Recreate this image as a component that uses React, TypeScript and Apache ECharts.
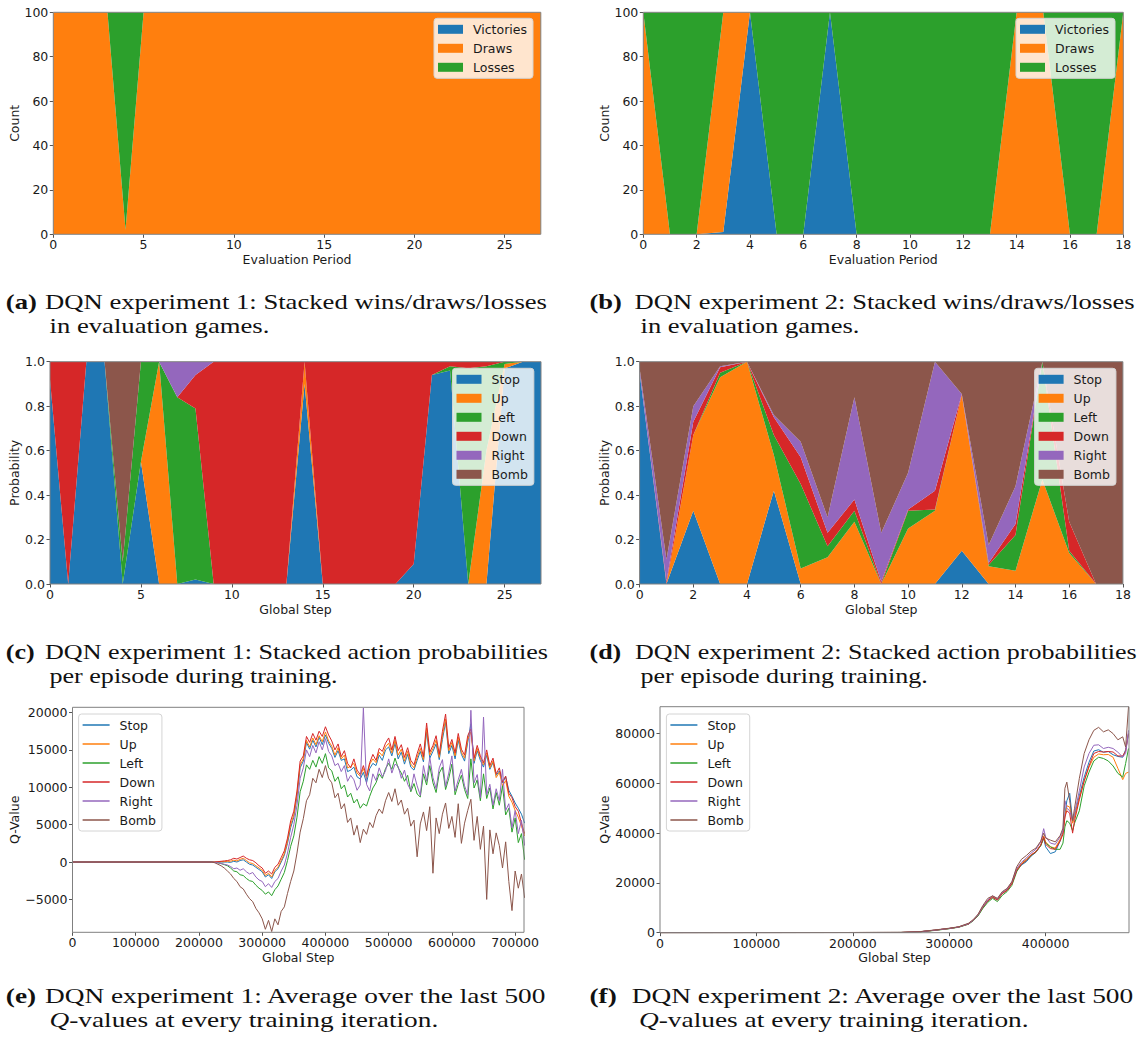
import React, { useEffect, useRef } from "react";
import * as echarts from "echarts";

// ---------------- colours (matplotlib tab10) ----------------
const BLUE = "#1f77b4";
const ORANGE = "#ff7f0e";
const GREEN = "#2ca02c";
const RED = "#d62728";
const PURPLE = "#9467bd";
const BROWN = "#8c564b";

// ---------------- (a) experiment 1 evaluation ----------------
const periodsA = [0, 1, 2, 3, 4, 5, 6, 7, 8, 9, 10, 11, 12, 13, 14, 15, 16, 17, 18, 19, 20, 21, 22, 23, 24, 25, 26, 27];
const a_victories = [0, 0, 0, 0, 0, 0, 0, 0, 0, 0, 0, 0, 0, 0, 0, 0, 0, 0, 0, 0, 0, 0, 0, 0, 0, 0, 0, 0];
const a_draws = [100, 100, 100, 100, 2, 100, 100, 100, 100, 100, 100, 100, 100, 100, 100, 100, 100, 100, 100, 100, 100, 100, 100, 100, 100, 100, 100, 100];
const a_losses = [0, 0, 0, 0, 98, 0, 0, 0, 0, 0, 0, 0, 0, 0, 0, 0, 0, 0, 0, 0, 0, 0, 0, 0, 0, 0, 0, 0];

// ---------------- (b) experiment 2 evaluation ----------------
const periodsB = [0, 1, 2, 3, 4, 5, 6, 7, 8, 9, 10, 11, 12, 13, 14, 15, 16, 17, 18];
const b_victories = [0, 0, 0, 1, 100, 0, 0, 100, 0, 0, 0, 0, 0, 0, 0, 0, 0, 0, 0];
const b_draws = [100, 0, 0, 99, 0, 0, 0, 0, 0, 0, 0, 0, 0, 0, 100, 100, 0, 0, 100];
const b_losses = [0, 100, 100, 0, 0, 100, 100, 0, 100, 100, 100, 100, 100, 100, 0, 0, 100, 100, 0];

// ---------------- (c) experiment 1 action probabilities ----------------
const stepsC = [0, 1, 2, 3, 4, 5, 6, 7, 8, 9, 10, 11, 12, 13, 14, 15, 16, 17, 18, 19, 20, 21, 22, 23, 24, 25, 26, 27];
const c_stop = [0.92, 0, 1, 1, 0, 0.55, 0, 0, 0.02, 0, 0, 0, 0, 0, 0.9, 0, 0, 0, 0, 0, 0.09, 0.94, 0.96, 0, 0, 0.97, 1, 1];
const c_up = [0, 0, 0, 0, 0, 0, 1, 0, 0, 0, 0, 0, 0, 0, 0.1, 0, 0, 0, 0, 0, 0, 0, 0, 0, 0.6, 0.02, 0, 0];
const c_left = [0, 0, 0, 0, 0.1, 0.45, 0, 0.84, 0.77, 0, 0, 0, 0, 0, 0, 0, 0, 0, 0, 0, 0, 0, 0.02, 0.97, 0.38, 0.01, 0, 0];
const c_down = [0.08, 1, 0, 0, 0, 0, 0, 0, 0.15, 1, 1, 1, 1, 1, 0, 1, 1, 1, 1, 1, 0.91, 0.06, 0.02, 0.03, 0.02, 0, 0, 0];
const c_right = [0, 0, 0, 0, 0, 0, 0, 0.16, 0.06, 0, 0, 0, 0, 0, 0, 0, 0, 0, 0, 0, 0, 0, 0, 0, 0, 0, 0, 0];
const c_bomb = [0, 0, 0, 0, 0.9, 0, 0, 0, 0, 0, 0, 0, 0, 0, 0, 0, 0, 0, 0, 0, 0, 0, 0, 0, 0, 0, 0, 0];

// ---------------- (d) experiment 2 action probabilities ----------------
const stepsD = [0, 1, 2, 3, 4, 5, 6, 7, 8, 9, 10, 11, 12, 13, 14, 15, 16, 17, 18];
const d_stop = [0.95, 0, 0.33, 0, 0, 0.42, 0, 0, 0, 0, 0, 0, 0.15, 0, 0, 0, 0, 0, 0];
const d_up = [0, 0, 0.34, 0.93, 1, 0.16, 0.07, 0.12, 0.28, 0, 0.25, 0.33, 0.7, 0.08, 0.06, 0.47, 0.14, 0, 0];
const d_left = [0, 0, 0, 0.02, 0, 0.09, 0.38, 0.05, 0.05, 0, 0.08, 0.005, 0, 0.005, 0.16, 0.53, 0.01, 0, 0];
const d_down = [0, 0.01, 0.06, 0.025, 0, 0.08, 0.12, 0.06, 0.05, 0.01, 0.005, 0.085, 0.005, 0.01, 0.05, 0, 0.13, 0, 0];
const d_right = [0.02, 0.1, 0.07, 0.005, 0, 0.01, 0.07, 0.07, 0.46, 0.22, 0.165, 0.58, 0, 0.08, 0.17, 0, 0, 0, 0];
const d_bomb = [0.03, 0.89, 0.2, 0.02, 0, 0.24, 0.36, 0.7, 0.16, 0.77, 0.5, 0, 0.145, 0.825, 0.56, 0, 0.72, 1, 1];

// ---------------- (e) experiment 1 Q-values ----------------
// first value at step 0, then one value every 5000 steps from 220000 to 715000
const E_FIRST_STEP = 220000;
const E_STRIDE = 5000;
const e_stop = [0,
  0, 0, 0, 0, 0, 0, -50, 100, 0, 200, 300, 0, -300, -400, -700, -1000, -1300, -2000, -1700, -2200,
  -1300, -900, 0, 900, 2500, 4600, 6000, 8800, 12600, 13500, 16000, 15100, 16300, 15400, 16700, 15700, 17000, 15900, 15200, 14000,
  14900, 13600, 13800, 12100, 12300, 12700, 11400, 11100, 12000, 10600, 12500, 13200, 12900, 14300, 13600, 15000, 15400, 14200, 15900, 13800,
  14700, 13100, 14400, 12700, 12300, 13600, 14800, 13400, 17400, 13900, 14800, 15800, 13700, 16400, 18700, 14500, 15600, 13800, 16300, 14400,
  13500, 16000, 18500, 13200, 14900, 13600, 12700, 14300, 12400, 13300, 11600, 12200, 10600, 11400, 9600, 8800, 7900, 7200, 6400, 5200];
const e_up = [0,
  0, 0, 0, 50, 50, 100, 100, 250, 150, 350, 500, 200, -100, -200, -500, -800, -1100, -1800, -1500, -2000,
  -1100, -700, 200, 1100, 2800, 5000, 6300, 9100, 13000, 13800, 16300, 15400, 16600, 15700, 16900, 16100, 17400, 16200, 15500, 14300,
  15300, 13800, 14300, 12600, 12800, 13200, 11900, 11500, 12500, 11200, 13100, 13800, 13300, 14700, 14200, 15400, 15900, 14600, 16300, 14300,
  15100, 13500, 14800, 13100, 12600, 14000, 15200, 13700, 17900, 14300, 15200, 16300, 14000, 16900, 19100, 14900, 16000, 14200, 16700, 14700,
  13900, 16400, 17400, 13500, 15200, 13900, 13000, 14600, 12600, 13500, 11300, 12000, 10200, 10900, 8800, 8000, 6900, 6000, 4800, 3500];
const e_left = [0,
  0, -50, -100, -200, -350, -500, -800, -1200, -1300, -1700, -1800, -2200, -2500, -2600, -3100, -3500, -3800, -4300, -4000, -4500,
  -3700, -3200, -2300, -1400, 200, 2100, 3500, 6000, 9400, 10800, 13000, 12400, 13600, 12700, 14100, 13200, 14500, 12600, 12200, 10800,
  11400, 9800, 10300, 8700, 9200, 7900, 8400, 7200, 7800, 7500, 8800, 9900, 10600, 11800, 11200, 12500, 13200, 12400, 13900, 12600,
  11900, 10800, 11600, 9400, 10500, 9100, 8700, 11800, 10300, 12900, 10600, 9300, 11900, 12700, 9700, 11200, 13100, 9000, 10400, 11600,
  9700, 8500, 13800, 9900, 11000, 8200, 11800, 8500, 9900, 7100, 9300, 7600, 10200, 6300, 7200, 4000, 5900, 2600, 3800, 300];
const e_down = [0,
  0, 0, 50, 100, 150, 200, 300, 500, 400, 600, 800, 500, 300, 200, -100, -500, -800, -1500, -1200, -1600,
  -700, -300, 600, 1500, 3200, 5500, 6800, 9500, 13500, 14200, 16800, 16000, 17200, 16300, 17500, 16800, 18100, 17000, 16200, 15000,
  15800, 14100, 14900, 13200, 12600, 13800, 12300, 11700, 12900, 11500, 13300, 14400, 13600, 15200, 14800, 15900, 16600, 15000, 16800, 14900,
  15700, 14000, 15300, 13600, 13000, 14500, 15800, 14100, 18600, 14700, 15600, 16900, 14400, 17500, 19800, 15300, 16400, 14600, 17200, 15100,
  14300, 16900, 17800, 13900, 15600, 14200, 13300, 15000, 12900, 13900, 11800, 12600, 10700, 11500, 9200, 8600, 7400, 6800, 5200, 3800];
const e_right = [0,
  0, -50, -100, -200, -300, -400, -600, -900, -800, -1100, -900, -1300, -1600, -1400, -2000, -2400, -2600, -3300, -2900, -3400,
  -2600, -2200, -1200, -400, 1200, 3300, 5000, 7600, 11200, 12600, 15000, 14100, 15600, 14600, 16100, 15000, 16500, 14800, 14200, 12900,
  13200, 12100, 12900, 10800, 11600, 11000, 9600, 10300, 20600, 10400, 9500, 11800, 10900, 12600, 11400, 12200, 13800, 11900, 13100, 12800,
  11200, 12300, 10400, 9600, 11800, 10200, 8900, 12900, 10800, 14000, 11300, 9800, 12600, 13700, 10100, 11900, 14200, 9500, 11000, 12400,
  10200, 9000, 20300, 10600, 11700, 8600, 19400, 9000, 10400, 7600, 9800, 8200, 12400, 6900, 7800, 4600, 6900, 3800, 5600, 2200];
const e_bomb = [0,
  0, -100, -300, -500, -800, -1200, -1600, -2200, -2600, -3300, -3600, -4300, -4900, -5300, -6200, -6800, -7600, -9000, -7800, -9300,
  -7600, -8400, -6600, -6000, -4200, -2600, -1200, 1200, 4000, 5800, 8200, 9000, 11200, 10600, 12400, 11300, 12900, 11200, 10600, 8600,
  9200, 7100, 7800, 5300, 5900, 3600, 4900, 2600, 4400, 3700, 5300, 4600, 6200, 7100, 6500, 8200, 9300, 8100, 9800, 7600,
  8300, 6400, 7200, 4800, 5600, 700, 5100, 6700, 4200, 7400, -1500, 5900, 3800, 6400, 7900, 4500, 6100, 3300, 7800, 2500,
  5200, 6900, 8400, 2900, 6100, 1700, 4800, -5000, 4300, 1100, 3900, 2200, -800, 2700, -2600, -6500, -1200, -3500, -1600, -4800];

// ---------------- (f) experiment 2 Q-values ----------------
const f_steps = [0, 250000, 270000, 285000, 300000, 310000, 320000, 325000, 330000, 335000, 340000, 345000, 350000, 355000, 360000,
  365000, 370000, 375000, 380000, 385000, 390000, 395000, 398000, 400000, 405000, 410000, 415000, 418000, 420000, 422000,
  425000, 428000, 430000, 435000, 440000, 445000, 450000, 455000, 460000, 465000, 470000, 475000, 480000, 483000, 486000];
const f_stop = [0, 100, 400, 1000, 1700, 2300, 3600, 5000, 7000, 10200, 12800, 14300, 13300, 15800, 17000, 19800, 25200, 27200, 28500, 30800, 32300, 35000, 38000, 34500, 31800, 32500, 36800, 40500, 47000, 53000, 56000, 44500, 47000, 55000, 62500, 68500, 73000, 73500, 72500, 72800, 71500, 70800, 70500, 73500, 80000];
const f_up = [0, 100, 400, 1000, 1700, 2300, 3600, 5100, 7200, 10500, 13000, 14600, 13500, 16000, 17200, 20000, 25500, 28000, 29500, 31300, 32600, 35300, 38800, 36500, 34500, 34000, 37500, 40000, 46500, 51000, 50500, 44000, 46500, 54000, 61000, 66500, 70500, 71800, 71500, 71600, 70500, 66000, 61500, 64000, 64500];
const f_left = [0, 100, 350, 900, 1600, 2200, 3400, 4800, 6800, 9800, 12200, 13800, 12500, 15000, 16500, 19000, 24500, 27500, 29000, 31000, 32500, 35000, 38000, 36000, 34500, 33500, 33500, 36000, 42500, 45000, 44000, 41000, 44000, 49000, 59000, 64500, 69000, 70500, 70000, 69000, 67000, 64000, 62500, 68000, 74000];
const f_down = [0, 100, 400, 1000, 1700, 2300, 3500, 5000, 7100, 10300, 12800, 14200, 13100, 15700, 17000, 19600, 25000, 27500, 29000, 31200, 32500, 35200, 38500, 35500, 33800, 33500, 36800, 39500, 46500, 49000, 48000, 40000, 45000, 53500, 61000, 67000, 72000, 72800, 72600, 72800, 72600, 71000, 71000, 73000, 80000];
const f_right = [0, 100, 400, 1000, 1700, 2300, 3600, 5000, 7200, 10600, 13200, 14800, 13600, 16200, 17500, 20300, 25800, 28300, 30000, 32000, 33500, 36500, 41800, 38500, 36000, 35500, 38500, 41000, 53000, 50000, 49000, 45000, 48000, 57000, 66600, 72000, 75300, 75500, 74000, 74500, 74000, 72500, 70600, 72000, 81300];
const f_bomb = [0, 100, 450, 1100, 1800, 2400, 3800, 5300, 7500, 11000, 13800, 14800, 13800, 16500, 17800, 20500, 26500, 29500, 31000, 32800, 34000, 36800, 40000, 38000, 37200, 36500, 39000, 42000, 58000, 60500, 53000, 45000, 50000, 62000, 72000, 77500, 81300, 82500, 80700, 81500, 80000, 77500, 78700, 74600, 90800];

// ---------------- labels & ticks ----------------
const outcomeNames = ["Victories", "Draws", "Losses"];
const outcomeColors = [BLUE, ORANGE, GREEN];
const actionNames = ["Stop", "Up", "Left", "Down", "Right", "Bomb"];
const actionColors = [BLUE, ORANGE, GREEN, RED, PURPLE, BROWN];

const ticksX27 = [0, 5, 10, 15, 20, 25];
const ticksX18 = [0, 2, 4, 6, 8, 10, 12, 14, 16, 18];
const ticksCount = [0, 20, 40, 60, 80, 100];
const ticksProb = [0, 0.2, 0.4, 0.6, 0.8, 1.0];
const ticksStepE = [0, 100000, 200000, 300000, 400000, 500000, 600000, 700000];
const ticksStepF = [0, 100000, 200000, 300000, 400000];
const ticksQE = [-5000, 0, 5000, 10000, 15000, 20000];
const ticksQF = [0, 20000, 40000, 60000, 80000];

const captions = [
  { tag: "(a)", tagX: 5.8, x1: 45, end1: 547, y1: 301.5, x2: 49.5, y2: 325.5, line1: "DQN experiment 1: Stacked wins/draws/losses", line2: "in evaluation games." },
  { tag: "(b)", tagX: 589.5, x1: 634.6, end1: 1135, y1: 301.5, x2: 640.5, y2: 325.5, line1: "DQN experiment 2: Stacked wins/draws/losses", line2: "in evaluation games." },
  { tag: "(c)", tagX: 5.8, x1: 45, end1: 548, y1: 652, x2: 49.5, y2: 676, line1: "DQN experiment 1: Stacked action probabilities", line2: "per episode during training." },
  { tag: "(d)", tagX: 589.5, x1: 635, end1: 1137, y1: 652, x2: 640.5, y2: 676, line1: "DQN experiment 2: Stacked action probabilities", line2: "per episode during training." },
  { tag: "(e)", tagX: 5.8, x1: 45, end1: 547, y1: 995.5, x2: 49.5, y2: 1019.5, line1: "DQN experiment 1: Average over the last 500", line2: "{i|Q}-values at every training iteration." },
  { tag: "(f)", tagX: 589.5, x1: 631.7, end1: 1135, y1: 995.5, x2: 639, y2: 1019.5, line1: "DQN experiment 2: Average over the last 500", line2: "{i|Q}-values at every training iteration." },
];

// ---------------- layout ----------------
const G = [
  { left: 53.3, top: 12.3, width: 487.5, height: 222 },
  { left: 643.3, top: 12.3, width: 480, height: 222 },
  { left: 50, top: 361.7, width: 491, height: 222.3 },
  { left: 639.6, top: 361.7, width: 483.3, height: 222.3 },
  { left: 72.5, top: 707.3, width: 451.5, height: 225 },
  { left: 660, top: 706.7, width: 469, height: 226 },
];

const SANS = "DejaVu Sans";
const FS = 12.5;
const TXT = "#1a1a1a";
const SERIF = "Liberation Serif";
const CAP_FS = 22;
const CAP_FILL = "#111";

const minusFmt = (v: number) => (v < 0 ? "\u2212" + Math.abs(v) : String(v));

const tickStyle = { show: true, length: 3.5, lineStyle: { color: "#555", width: 1 } };

function catAxis(gi: number, cats: number[], ticks: number[], name: string) {
  const show = (_i: number, v: any) => ticks.indexOf(Number(v)) >= 0;
  return {
    type: "category", gridIndex: gi, data: cats.map(String), boundaryGap: false,
    axisLine: { show: false, onZero: false }, splitLine: { show: false },
    axisTick: { ...tickStyle, interval: show, alignWithLabel: true },
    axisLabel: { interval: show, margin: 4, fontSize: FS, fontFamily: SANS, color: TXT },
    name, nameLocation: "middle", nameGap: 18.5,
    nameTextStyle: { fontSize: FS, fontFamily: SANS, color: TXT },
  };
}
function valXAxis(gi: number, min: number, max: number, ticks: number[], name: string) {
  return {
    type: "value", gridIndex: gi, min, max,
    axisLine: { show: false, onZero: false }, splitLine: { show: false },
    axisTick: { ...tickStyle, customValues: ticks },
    axisLabel: { customValues: ticks, margin: 4, fontSize: FS, fontFamily: SANS, color: TXT, formatter: (v: number) => String(v) },
    name, nameLocation: "middle", nameGap: 18.5,
    nameTextStyle: { fontSize: FS, fontFamily: SANS, color: TXT },
  };
}
function yAxis(gi: number, min: number, max: number, ticks: number[], name: string, gap: number, fmt: (v: number) => string) {
  return {
    type: "value", gridIndex: gi, min, max,
    axisLine: { show: false, onZero: false }, splitLine: { show: false },
    axisTick: { ...tickStyle, customValues: ticks },
    axisLabel: { customValues: ticks, margin: 5, fontSize: FS, fontFamily: SANS, color: TXT, formatter: fmt },
    name, nameLocation: "middle", nameGap: gap, nameRotate: 90,
    nameTextStyle: { fontSize: FS, fontFamily: SANS, color: TXT },
  };
}
function stacked(gi: number, names: string[], colors: string[], vals: number[][]) {
  return names.map((n, k) => ({
    type: "line", name: n, xAxisIndex: gi, yAxisIndex: gi, stack: "s" + gi,
    data: vals[k],
    symbol: "none", showSymbol: false, silent: true,
    lineStyle: { width: 0, color: colors[k] },
    areaStyle: { color: colors[k], opacity: 1 },
    itemStyle: { color: colors[k] }, z: 2,
  }));
}
function lines(gi: number, xs: number[], names: string[], colors: string[], vals: number[][]) {
  return names.map((n, k) => ({
    type: "line", name: n, xAxisIndex: gi, yAxisIndex: gi,
    data: xs.map((x, i) => [x, vals[k][i]]),
    symbol: "none", showSymbol: false, silent: true,
    lineStyle: { width: 1, color: colors[k] },
    itemStyle: { color: colors[k] }, z: 3,
  }));
}
function legend(left: number, top: number, names: string[], colors: string[], lineIcon: boolean) {
  return {
    orient: "vertical", left, top, selectedMode: false,
    data: names.map((n, k) => ({ name: n, icon: "rect", itemStyle: { color: colors[k], borderWidth: 0 } })),
    itemWidth: lineIcon ? 27 : 25, itemHeight: lineIcon ? 1.5 : 9, itemGap: 5,
    textStyle: { fontSize: FS, fontFamily: SANS, color: TXT, lineHeight: 14, padding: [0, 0, 0, 5] },
    backgroundColor: "rgba(255,255,255,0.8)", borderColor: "#d4d4d4", borderWidth: 1, borderRadius: 3,
    padding: [4, 6, 4, 4], z: 10,
  };
}

export default function App() {
  const ref = useRef<HTMLDivElement>(null);
  useEffect(() => {
    if (!ref.current) return;
    const chart = echarts.init(ref.current, undefined, { renderer: "svg" });

    const ctx = document.createElement("canvas").getContext("2d")!;
    ctx.font = `${CAP_FS}px "${SERIF}"`;

    const eX = [0, ...e_stop.slice(1).map((_, i) => E_FIRST_STEP + E_STRIDE * i)];

    const capGraphics: any[] = [];
    captions.forEach((c) => {
      const natural = ctx.measureText(c.line1).width;
      const sx = natural > 0 ? (c.end1 - c.x1) / natural : 1.2;
      capGraphics.push({
        type: "text", x: c.tagX, y: c.y1, scaleX: sx, silent: true, z: 60,
        style: { text: c.tag, fontFamily: SERIF, fontSize: CAP_FS, fontWeight: "bold", fill: CAP_FILL, verticalAlign: "middle" },
      });
      capGraphics.push({
        type: "text", x: c.x1, y: c.y1, scaleX: sx, silent: true, z: 60,
        style: { text: c.line1, fontFamily: SERIF, fontSize: CAP_FS, fill: CAP_FILL, verticalAlign: "middle" },
      });
      capGraphics.push({
        type: "text", x: c.x2, y: c.y2, scaleX: sx, silent: true, z: 60,
        style: {
          text: c.line2, fontFamily: SERIF, fontSize: CAP_FS, fill: CAP_FILL, verticalAlign: "middle",
          rich: { i: { fontStyle: "italic", fontFamily: SERIF, fontSize: CAP_FS, fill: CAP_FILL } },
        },
      });
    });
    const frames = G.map((g) => ({
      type: "rect", silent: true, z: 50,
      shape: { x: g.left, y: g.top, width: g.width, height: g.height },
      style: { fill: "none", stroke: "#808080", lineWidth: 1 },
    }));

    const num = (v: number) => String(v);
    const p1 = (v: number) => v.toFixed(1);

    chart.setOption({
      animation: false,
      backgroundColor: "#fff",
      grid: G.map((g) => ({ ...g, containLabel: false })),
      xAxis: [
        catAxis(0, periodsA, ticksX27, "Evaluation Period"),
        catAxis(1, periodsB, ticksX18, "Evaluation Period"),
        catAxis(2, stepsC, ticksX27, "Global Step"),
        catAxis(3, stepsD, ticksX18, "Global Step"),
        valXAxis(4, 0, 714000, ticksStepE, "Global Step"),
        valXAxis(5, 0, 486500, ticksStepF, "Global Step"),
      ],
      yAxis: [
        yAxis(0, 0, 100, ticksCount, "Count", 31.5, num),
        yAxis(1, 0, 100, ticksCount, "Count", 31.5, num),
        yAxis(2, 0, 1, ticksProb, "Probability", 27.5, p1),
        yAxis(3, 0, 1, ticksProb, "Probability", 26.5, p1),
        yAxis(4, -9400, 20700, ticksQE, "Q-Value", 50, minusFmt),
        yAxis(5, 0, 90800, ticksQF, "Q-Value", 48, minusFmt),
      ],
      legend: [
        legend(434, 18.3, outcomeNames, outcomeColors, false),
        legend(1016, 18.3, outcomeNames, outcomeColors, false),
        legend(452.5, 368.3, actionNames, actionColors, false),
        legend(1034.6, 368.3, actionNames, actionColors, false),
        legend(78.6, 714, actionNames, actionColors, true),
        legend(666.4, 714, actionNames, actionColors, true),
      ],
      series: [
        ...stacked(0, outcomeNames, outcomeColors, [a_victories, a_draws, a_losses]),
        ...stacked(1, outcomeNames, outcomeColors, [b_victories, b_draws, b_losses]),
        ...stacked(2, actionNames, actionColors, [c_stop, c_up, c_left, c_down, c_right, c_bomb]),
        ...stacked(3, actionNames, actionColors, [d_stop, d_up, d_left, d_down, d_right, d_bomb]),
        ...lines(4, eX, actionNames, actionColors, [e_stop, e_up, e_left, e_down, e_right, e_bomb]),
        ...lines(5, f_steps, actionNames, actionColors, [f_stop, f_up, f_left, f_down, f_right, f_bomb]),
      ],
      graphic: [...frames, ...capGraphics],
    });
    return () => chart.dispose();
  }, []);
  return (
    <div
      ref={ref}
      style={{ position: "absolute", left: 0, top: 0, width: 1141, height: 1043, background: "#fff" }}
    />
  );
}
